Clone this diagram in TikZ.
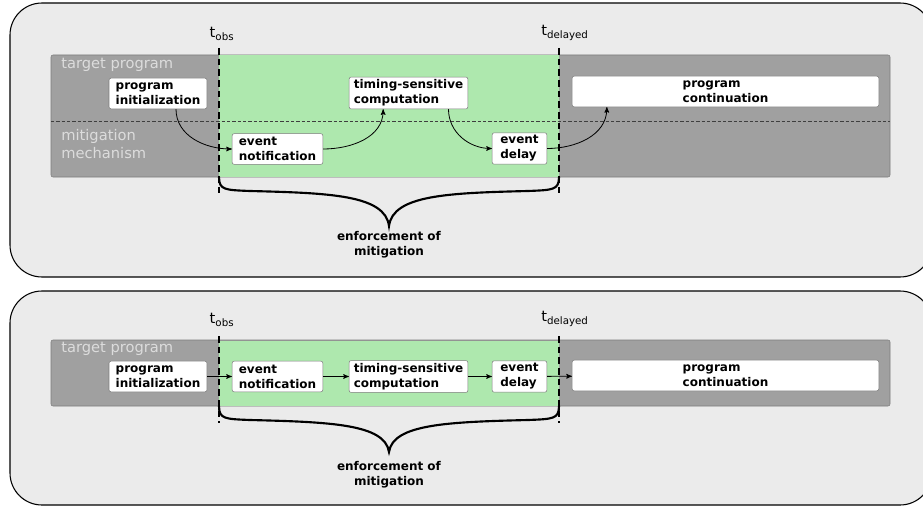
\documentclass[tikz,border=0pt]{standalone}
\usepackage{fontspec}
\setmainfont{DejaVu Sans}
\usepackage{tikz}
\usetikzlibrary{arrows,shapes,backgrounds,positioning}

\definecolor{panelgray}{HTML}{EBEBEB}
\definecolor{bandgray}{HTML}{A0A0A0}
\definecolor{bandedge}{HTML}{7C7C7C}
\definecolor{mitgreen}{HTML}{AEE8AE}
\definecolor{labelgray}{HTML}{DCDCDC}

\begin{document}
\begin{tikzpicture}[x=0.75pt, y=-0.75pt]
		\tikzset{stage/.style={draw=bandedge, fill=white, rounded corners=1.5pt, align=left, inner xsep=2.5pt, inner ysep=2pt, minimum height=23pt, font=\bfseries\fontsize{9}{11.25}\selectfont}}
		\tikzset{ar/.style={->, >=stealth', draw=black, semithick}}
		\tikzset{lane/.style={labelgray, inner sep=0, align=left, font=\fontsize{11}{13.5}\selectfont}}
		\tikzset{tmark/.style={font=\fontsize{11}{13}\selectfont}}
		\tikzset{cut/.style={black, dash pattern=on 5pt off 3pt, line width=0.8pt}}
		\tikzset{mitbrace/.style={black, line width=1.6pt, line cap=round}}
		\tikzset{bracelabel/.style={align=center, font=\bfseries\fontsize{9}{11.25}\selectfont}}
		\tikzset{panel/.style={draw=black, line width=0.8pt, fill=panelgray, rounded corners=24pt}}
		\useasboundingbox (0,0) rectangle (923,506);
		% two panels
		\draw[panel] (10,3) rectangle (932,277);
		\draw[panel] (10,291) rectangle (932,505);

		% upper panel: program and mitigation lanes
		\draw[fill=bandgray, draw=bandedge, rounded corners=1.5pt] (51,55) rectangle (890,177);
		\fill[mitgreen] (219,55.5) rectangle (559,176.5);
		\draw[bandedge!50!black, dash pattern=on 2.5pt off 1.5pt] (51,121) -- (890,121);
		\node[lane, anchor=west] at (61,65) (tp) {target program};
		\node[lane, anchor=north west] at (61,129) (mm) {mitigation\\mechanism};
		\draw[cut] (219,48) -- (219,195);
		\draw[cut] (559,48) -- (559,195);
		\node[tmark] at (222,34) (tobs) {t\textsubscript{obs}};
		\node[tmark] at (565,33) (tdel) {t\textsubscript{delayed}};
		\node[stage, minimum width=73.5pt] at (158,93.5) (init) {program\\initialization};
		\node[stage, minimum width=68pt] at (277.5,149) (notif) {event\\notification};
		\node[stage, minimum width=89pt] at (408.5,93) (comp) {timing-sensitive\\computation};
		\node[stage, minimum width=41pt] at (519.5,148.5) (delay) {event\\delay};
		\node[stage, minimum width=230pt] at (725.5,91.5) (cont) {program\\continuation};
		\draw[ar] ([xshift=13.5pt]init.south) to[out=-90, in=180] (notif.west);
		\draw[ar] (notif.east) to[out=0, in=-90] ([xshift=-19pt]comp.south);
		\draw[ar] ([xshift=30pt]comp.south) to[out=-90, in=180] (delay.west);
		\draw[ar] (delay.east) to[out=0, in=-90] ([xshift=-89pt]cont.south);
		\draw[mitbrace] (219,177) .. controls (219,190) and (225,190) .. (250,191)
			.. controls (330,193) and (385,195) .. (389,226)
			.. controls (393,195) and (448,193) .. (528,191)
			.. controls (553,190) and (559,190) .. (559,177);
		\node[bracelabel] at (389,245) (enf) {enforcement of\\mitigation};

		% lower panel: everything on one lane
		\draw[fill=bandgray, draw=bandedge, rounded corners=1.5pt] (51,340) rectangle (890,406);
		\fill[mitgreen] (219,340.5) rectangle (559,405.5);
		\node[lane, anchor=west] at (61,349) (tp2) {target program};
		\draw[cut] (219,336) -- (219,423);
		\draw[cut] (559,336) -- (559,423);
		\node[tmark] at (222,320) (tobs2) {t\textsubscript{obs}};
		\node[tmark] at (565,319) (tdel2) {t\textsubscript{delayed}};
		\node[stage, minimum width=73.5pt] at (158,376.5) (init2) {program\\initialization};
		\node[stage, minimum width=68pt] at (277.5,376.5) (notif2) {event\\notification};
		\node[stage, minimum width=89pt] at (408.5,376.5) (comp2) {timing-sensitive\\computation};
		\node[stage, minimum width=41pt] at (519.5,376.5) (delay2) {event\\delay};
		\node[stage, minimum width=230pt] at (725.5,375.5) (cont2) {program\\continuation};
		\draw[ar] (init2) -- (notif2);
		\draw[ar] (notif2) -- (comp2);
		\draw[ar] (comp2) -- (delay2);
		\draw[ar] (delay2) -- (cont2);
		\draw[mitbrace] (219,406) .. controls (219,419) and (225,419) .. (250,420)
			.. controls (330,422) and (385,424) .. (389,452)
			.. controls (393,424) and (448,422) .. (528,420)
			.. controls (553,419) and (559,419) .. (559,406);
		\node[bracelabel] at (389,474.5) (enf2) {enforcement of\\mitigation};
\end{tikzpicture}
\end{document}
